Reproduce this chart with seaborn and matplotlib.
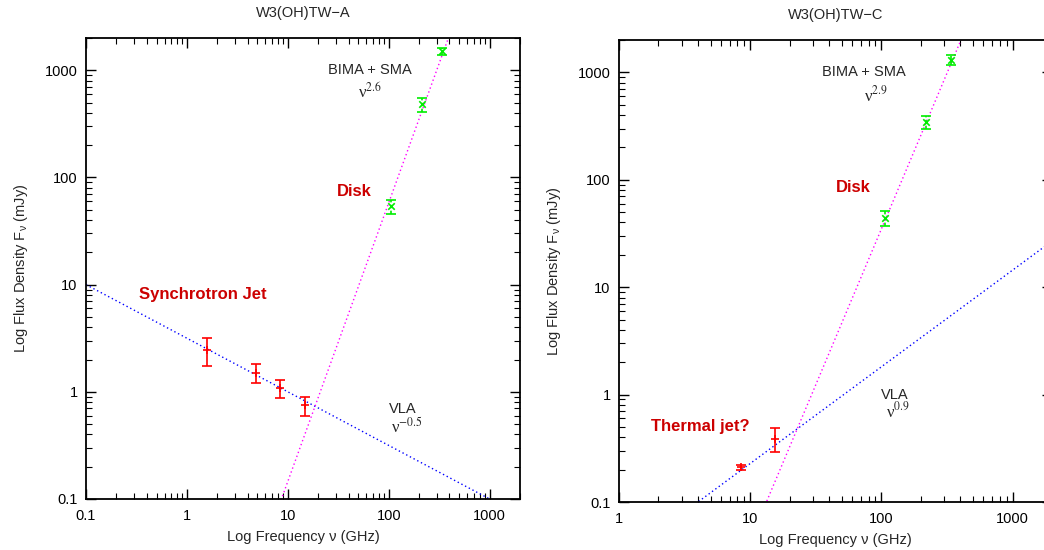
import numpy as np
import pandas as pd
import matplotlib
matplotlib.use("Agg")
import matplotlib.pyplot as plt
import seaborn as sns
from matplotlib.ticker import LogLocator, FixedLocator, FixedFormatter, NullFormatter

sns.set_theme(style="ticks")
plt.rcParams['font.family'] = ['Liberation Sans', 'DejaVu Sans']

# ---- Data: W3(OH)TW-A ----
a_vla_freq = [1.58, 4.86, 8.4, 14.9]
a_vla_flux = [2.46, 1.5, 1.08, 0.75]
a_vla_err = [0.7, 0.3, 0.2, 0.15]
a_mm_freq = [106, 212, 335]
a_mm_flux = [54, 480, 1500]
a_mm_err = [8, 75, 100]
a_sync_index = -0.5
a_sync_ref = (0.1, 10.0)
a_disk_index = 2.6
a_disk_ref = (8.65, 0.1)

# ---- Data: W3(OH)TW-C ----
c_vla_freq = [8.5, 15.5]
c_vla_flux = [0.21, 0.39]
c_vla_err = [0.01, 0.1]
c_mm_freq = [107, 218, 342]
c_mm_flux = [44, 345, 1300]
c_mm_err = [7, 50, 140]
c_jet_index = 0.9
c_jet_ref = (4.0, 0.1)
c_disk_index = 2.9
c_disk_ref = (13.3, 0.1)

tick_vals = [0.1, 1, 10, 100, 1000]
tick_labels = ["0.1", "1", "10", "100", "1000"]

W, H = 1044, 550
fig = plt.figure(figsize=(W / 100, H / 100), dpi=100)

def rect(l, r, t, b):
    return [l / W, 1 - b / H, (r - l) / W, (b - t) / H]

axA = fig.add_axes(rect(86, 520, 38, 499))
axC = fig.add_axes(rect(619, 1052, 40, 502))

def powerlaw(ax, ref, index, xr, color):
    nu = np.logspace(np.log10(xr[0]), np.log10(xr[1]), 200)
    f = ref[1] * (nu / ref[0]) ** index
    df = pd.DataFrame({"nu": nu, "f": f})
    sns.lineplot(data=df, x="nu", y="f", ax=ax, color=color, lw=1.0,
                 linestyle=(0, (1, 2)), estimator=None, sort=False)

def style(ax, xlim):
    ax.set_xscale("log")
    ax.set_yscale("log")
    ax.set_xlim(*xlim)
    ax.set_ylim(0.1, 2000)
    ax.xaxis.set_major_locator(FixedLocator(tick_vals))
    ax.xaxis.set_major_formatter(FixedFormatter(tick_labels))
    ax.yaxis.set_major_locator(FixedLocator(tick_vals))
    ax.yaxis.set_major_formatter(FixedFormatter(tick_labels))
    ax.xaxis.set_minor_locator(LogLocator(base=10, subs=np.arange(2, 10), numticks=20))
    ax.yaxis.set_minor_locator(LogLocator(base=10, subs=np.arange(2, 10), numticks=20))
    ax.xaxis.set_minor_formatter(NullFormatter())
    ax.yaxis.set_minor_formatter(NullFormatter())
    ax.tick_params(which="both", direction="in", top=True, right=True,
                   labelsize=10.5, colors="black")
    ax.tick_params(axis="x", which="major", pad=7)
    ax.tick_params(axis="y", which="major", pad=6)
    ax.tick_params(which="major", length=7, width=1.0)
    ax.tick_params(which="minor", length=4, width=0.8)
    for s in ax.spines.values():
        s.set_linewidth(1.3)
        s.set_color("black")
    ax.set_xlabel("Log Frequency ν (GHz)", fontsize=10.5, labelpad=5)
    ax.set_ylabel("Log Flux Density F$_{\\mathregular{ν}}$ (mJy)", fontsize=10.5, labelpad=11)

def points(ax, fr, fl, er, color, marker, dashed=False, size=40):
    eb = ax.errorbar(fr, fl, yerr=er, fmt="none", ecolor=color, elinewidth=1.2,
                     capsize=3.5, capthick=1.2, zorder=3)
    if dashed:
        eb[2][0].set_linestyle((0, (2, 1.5)))
    df = pd.DataFrame({"f": fr, "s": fl})
    sns.scatterplot(data=df, x="f", y="s", ax=ax, marker=marker, color=color,
                    s=size, linewidth=1.2, zorder=4)

red = "#cc0000"
green = "#00ee00"

# Panel A
powerlaw(axA, a_sync_ref, a_sync_index, (0.1, 2000), "blue")
powerlaw(axA, a_disk_ref, a_disk_index, (5, 2000), "magenta")
points(axA, a_vla_freq, a_vla_flux, a_vla_err, "red", "+")
points(axA, a_mm_freq, a_mm_flux, a_mm_err, green, "x", dashed=True, size=22)
style(axA, (0.1, 2000))
axA.set_title("W3(OH)TW−A", fontsize=10.5, pad=15)

# Panel C
powerlaw(axC, c_jet_ref, c_jet_index, (1, 2000), "blue")
powerlaw(axC, c_disk_ref, c_disk_index, (8, 2000), "magenta")
points(axC, c_vla_freq, c_vla_flux, c_vla_err, "red", "+")
points(axC, c_mm_freq, c_mm_flux, c_mm_err, green, "x", dashed=True, size=22)
style(axC, (1, 2000))
axC.set_title("W3(OH)TW−C", fontsize=10.5, pad=15)

def ftext(x, y, s, **kw):
    fig.text(x / W, 1 - y / H, s, ha="center", va="center", **kw)

def ptext(x, y, s):
    fig.text(x / W, 1 - y / H, s, ha="center", va="center", fontsize=12,
             family=['Liberation Serif', 'DejaVu Serif'], math_fontfamily="stix")

ftext(370, 70, "BIMA + SMA", fontsize=10.5)
ptext(370, 92, "ν$^{2.6}$")
ftext(354, 192, "Disk", fontsize=12, color=red, fontweight="bold")
ftext(203, 294, "Synchrotron Jet", fontsize=12, color=red, fontweight="bold")
ftext(403, 409, "VLA", fontsize=10.5)
ptext(407, 427, "ν$^{-0.5}$")

ftext(864, 72, "BIMA + SMA", fontsize=10.5)
ptext(876, 95, "ν$^{2.9}$")
ftext(853, 187, "Disk", fontsize=12, color=red, fontweight="bold")
ftext(895, 395, "VLA", fontsize=10.5)
ptext(898, 411, "ν$^{0.9}$")
ftext(700, 427, "Thermal jet?", fontsize=12, color=red, fontweight="bold")

for ax in (axA, axC):
    leg = ax.get_legend()
    if leg:
        leg.remove()

fig.savefig("out.png", dpi=100)
